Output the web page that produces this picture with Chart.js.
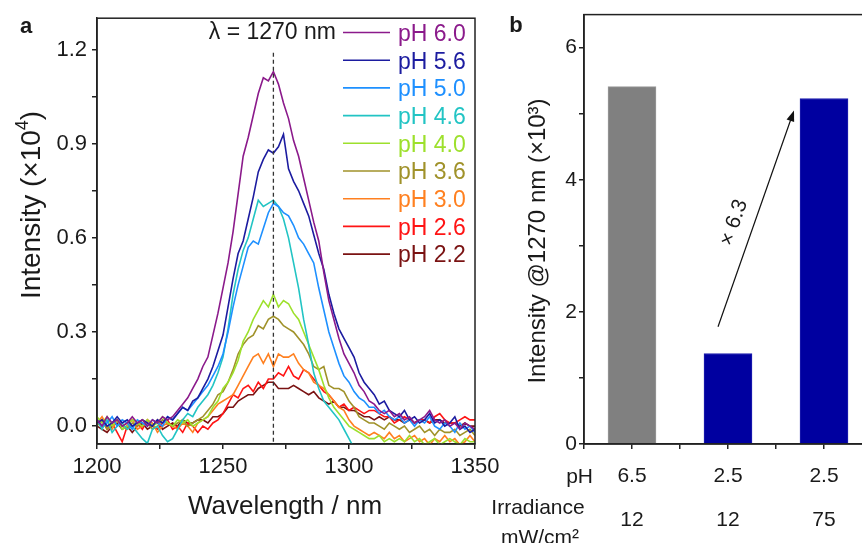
<!DOCTYPE html>
<html lang="en">
<head>
<meta charset="UTF-8">
<title>1270 nm emission vs pH</title>
<script src="https://cdn.jsdelivr.net/npm/chart.js"></script>
<style>
  html, body { margin: 0; padding: 0; background: #fff; overflow: hidden; }
  #wrap { position: relative; width: 862px; height: 543px; overflow: hidden; background: #fff; }
  #chartA { position: absolute; left: 0; top: 0; }
  #chartB { position: absolute; left: 480px; top: 0; }
</style>
</head>
<body>
<div id="wrap">
  <canvas id="chartA" width="520" height="543"></canvas>
  <canvas id="chartB" width="420" height="543"></canvas>
</div>
<script>
// ---- panel a: emission spectra (intensity x10^4) ----
const wavelengths = [
  1200, 1202, 1204, 1206, 1208, 1210, 1212, 1214, 1216, 1218,
  1220, 1222, 1224, 1226, 1228, 1230, 1232, 1234, 1236, 1238,
  1240, 1242, 1244, 1246, 1248, 1250, 1252, 1254, 1256, 1258,
  1260, 1262, 1264, 1266, 1268, 1270, 1272, 1274, 1276, 1278,
  1280, 1282, 1284, 1286, 1288, 1290, 1292, 1294, 1296, 1298,
  1300, 1302, 1304, 1306, 1308, 1310, 1312, 1314, 1316, 1318,
  1320, 1322, 1324, 1326, 1328, 1330, 1332, 1334, 1336, 1338,
  1340, 1342, 1344, 1346, 1348, 1350
];
const phLabels = ['pH 6.0', 'pH 5.6', 'pH 5.0', 'pH 4.6', 'pH 4.0', 'pH 3.6', 'pH 3.0', 'pH 2.6', 'pH 2.2'];

const ph60 = [
  0.02, 0.00, 0.03, 0.01, 0.02, 0.00, 0.01, 0.03, 0.01, 0.02,
  0.00, 0.02, 0.01, 0.03, 0.02, 0.03, 0.05, 0.07, 0.09, 0.12,
  0.15, 0.19, 0.22, 0.29, 0.36, 0.44, 0.52, 0.62, 0.74, 0.86,
  0.92, 0.99, 1.06, 1.11, 1.10, 1.13, 1.09, 1.03, 0.98, 0.91,
  0.86, 0.79, 0.72, 0.65, 0.59, 0.49, 0.40, 0.34, 0.28, 0.23,
  0.20, 0.17, 0.13, 0.11, 0.08, 0.07, 0.05, 0.04, 0.05, 0.03,
  0.04, 0.02, 0.03, 0.01, 0.02, 0.03, 0.05, 0.02, 0.01, 0.02,
  0.00, 0.01, -0.01, 0.01, 0.00, -0.01
];
const ph56 = [
  0.01, 0.02, 0.00, 0.01, 0.03, 0.01, 0.02, 0.00, 0.01, 0.02,
  0.01, 0.00, 0.02, 0.01, 0.03, 0.02, 0.04, 0.06, 0.05, 0.08,
  0.09, 0.12, 0.15, 0.19, 0.24, 0.29, 0.38, 0.47, 0.55, 0.59,
  0.66, 0.73, 0.81, 0.85, 0.88, 0.87, 0.89, 0.93, 0.82, 0.78,
  0.75, 0.71, 0.67, 0.61, 0.55, 0.50, 0.42, 0.36, 0.31, 0.28,
  0.25, 0.22, 0.17, 0.14, 0.12, 0.10, 0.07, 0.08, 0.05, 0.04,
  0.03, 0.05, 0.02, 0.03, 0.01, 0.02, 0.04, 0.01, 0.02, 0.00,
  0.01, 0.03, -0.01, 0.00, -0.02, -0.01
];
const ph50 = [
  0.02, 0.00, 0.01, 0.03, 0.00, 0.02, 0.01, -0.01, 0.02, 0.01,
  0.00, 0.02, 0.01, 0.00, 0.03, 0.02, 0.04, 0.06, 0.05, 0.07,
  0.09, 0.11, 0.13, 0.16, 0.19, 0.23, 0.30, 0.38, 0.45, 0.51,
  0.57, 0.59, 0.58, 0.63, 0.68, 0.71, 0.70, 0.68, 0.67, 0.64,
  0.60, 0.58, 0.55, 0.52, 0.44, 0.37, 0.30, 0.25, 0.20, 0.16,
  0.14, 0.11, 0.09, 0.08, 0.06, 0.06, 0.04, 0.05, 0.03, 0.02,
  0.03, 0.01, 0.02, 0.00, 0.02, 0.01, 0.03, 0.00, -0.01, 0.01,
  0.00, -0.02, 0.01, -0.01, 0.00, -0.02
];
const ph46 = [
  0.02, -0.01, 0.02, -0.02, 0.00, 0.01, -0.01, 0.00, -0.02, -0.04,
  -0.055, -0.01, 0.00, -0.03, -0.05, -0.04, -0.01, 0.02, 0.04, 0.03,
  0.06, 0.08, 0.10, 0.13, 0.17, 0.22, 0.31, 0.42, 0.50, 0.56,
  0.60, 0.66, 0.72, 0.70, 0.71, 0.72, 0.70, 0.66, 0.60, 0.52,
  0.44, 0.34, 0.26, 0.17, 0.12, 0.08, 0.06, 0.04, 0.02, -0.01,
  -0.04, -0.07, -0.10, -0.12, -0.14, -0.15, -0.16, -0.16, -0.17, -0.17,
  -0.18, -0.18, -0.18, -0.19, -0.19, -0.19, -0.20, -0.20, -0.20, -0.20,
  -0.20, -0.21, -0.21, -0.21, -0.21, -0.21
];
const ph40 = [
  0.03, 0.01, 0.03, 0.00, 0.02, -0.01, 0.00, 0.02, 0.01, 0.00,
  0.02, 0.00, 0.01, 0.03, 0.01, 0.00, 0.02, 0.01, 0.02, 0.00,
  0.01, 0.02, 0.03, 0.06, 0.08, 0.12, 0.14, 0.17, 0.21, 0.27,
  0.30, 0.34, 0.37, 0.40, 0.38, 0.42, 0.38, 0.40, 0.39, 0.36,
  0.34, 0.30, 0.26, 0.22, 0.18, 0.13, 0.09, 0.06, 0.04, 0.02,
  0.00, -0.01, -0.02, -0.03, -0.04, -0.04, -0.03, -0.05, -0.04, -0.05,
  -0.04, -0.05, -0.03, -0.05, -0.04, -0.06, -0.05, -0.04, -0.06, -0.05,
  -0.04, -0.05, -0.06, -0.04, -0.05, -0.05
];
const ph36 = [
  0.00, 0.02, -0.01, 0.01, 0.02, 0.00, -0.01, 0.01, 0.00, 0.02,
  0.01, -0.01, 0.00, 0.02, 0.01, 0.00, 0.01, 0.02, 0.00, 0.01,
  0.02, 0.03, 0.05, 0.07, 0.10, 0.11, 0.14, 0.18, 0.23, 0.26,
  0.28, 0.29, 0.32, 0.31, 0.34, 0.35, 0.34, 0.32, 0.31, 0.30,
  0.28, 0.26, 0.23, 0.19, 0.18, 0.19, 0.13, 0.12, 0.12, 0.11,
  0.08, 0.06, 0.03, 0.02, 0.01, 0.01, 0.00, -0.01, 0.01, 0.00,
  -0.01, 0.00, -0.02, -0.01, 0.00, -0.02, -0.01, -0.03, -0.01, -0.02,
  -0.02, -0.01, -0.03, -0.02, -0.01, -0.03
];
const ph30 = [
  0.01, 0.03, 0.00, -0.01, 0.02, 0.00, 0.01, 0.02, -0.01, 0.00,
  0.02, 0.01, -0.02, 0.00, 0.01, 0.00, -0.01, 0.01, 0.00, -0.02,
  0.01, 0.02, 0.03, 0.05, 0.07, 0.08, 0.09, 0.10, 0.13, 0.16,
  0.19, 0.22, 0.23, 0.20, 0.23, 0.19, 0.23, 0.22, 0.22, 0.23,
  0.20, 0.18, 0.17, 0.14, 0.13, 0.12, 0.10, 0.08, 0.06, 0.05,
  0.02, 0.00, -0.01, -0.02, -0.03, -0.02, -0.03, -0.04, -0.02, -0.04,
  -0.03, -0.05, -0.04, -0.03, -0.05, -0.04, -0.06, -0.04, -0.05, -0.03,
  -0.05, -0.04, -0.06, -0.05, -0.03, -0.05
];
const ph26 = [
  0.01, 0.02, -0.01, 0.01, -0.02, -0.05, 0.00, 0.02, 0.01, -0.01,
  0.02, 0.00, -0.01, 0.01, 0.02, -0.01, 0.00, -0.02, 0.01, 0.00,
  -0.02, 0.00, -0.01, 0.01, 0.02, 0.04, 0.07, 0.10, 0.09, 0.12,
  0.13, 0.11, 0.14, 0.12, 0.15, 0.15, 0.17, 0.16, 0.19, 0.16,
  0.15, 0.18, 0.17, 0.15, 0.13, 0.11, 0.10, 0.08, 0.06, 0.07,
  0.05, 0.06, 0.05, 0.04, 0.05, 0.05, 0.04, 0.03, 0.03, 0.01,
  0.02, 0.03, 0.02, 0.01, 0.02, 0.02, 0.01, 0.03, 0.04, 0.02,
  0.01, 0.01, 0.02, 0.03, 0.02, 0.02
];
const ph22 = [
  0.00, -0.01, -0.02, 0.00, 0.01, -0.01, 0.00, -0.02, 0.00, 0.01,
  -0.01, 0.00, 0.02, -0.01, 0.00, 0.01, 0.00, 0.02, 0.01, 0.01,
  0.02, 0.02, 0.01, 0.03, 0.03, 0.04, 0.06, 0.06, 0.08, 0.09,
  0.10, 0.10, 0.12, 0.13, 0.14, 0.14, 0.12, 0.12, 0.12, 0.13,
  0.12, 0.11, 0.10, 0.11, 0.09, 0.08, 0.07, 0.08, 0.06, 0.06,
  0.05, 0.05, 0.04, 0.03, 0.03, 0.02, 0.03, 0.02, 0.03, 0.02,
  0.02, 0.01, 0.02, 0.01, 0.02, 0.02, 0.01, 0.02, 0.02, 0.01,
  0.01, 0.01, 0.00, 0.01, 0.00, 0.00
];
const aYMajor = [0, 0.3, 0.6, 0.9, 1.2];
const aYMinor = [0.15, 0.45, 0.75, 1.05];

// ---- panel b: intensity at 1270 nm (x10^3) ----
const barPH = ['6.5', '2.5', '2.5'];
const barIrradiance = ['12', '12', '75'];
const barValues = [5.41, 1.37, 5.23];

const FONT = 'Arial, "Liberation Sans", sans-serif';
const INK = '#1a1a1a';
const lineColors = ['#8b1a8b', '#1c1ca0', '#1e90ff', '#22c4c4', '#9de02c', '#a0922a', '#ff8020', '#ff1414', '#7a1212'];
const series = [ph60, ph56, ph50, ph46, ph40, ph36, ph30, ph26, ph22];

Chart.defaults.font.family = FONT;
Chart.defaults.color = INK;

const panelA = {
  id: 'panelA',
  afterDraw(chart) {
    const { ctx, chartArea: a, scales: { x, y } } = chart;
    ctx.save();
    ctx.strokeStyle = '#222';
    ctx.lineWidth = 1.5;
    ctx.strokeRect(a.left, a.top, a.right - a.left, a.bottom - a.top);

    // dashed marker at 1270 nm
    const xm = x.getPixelForValue(1270);
    ctx.setLineDash([4, 3]);
    ctx.lineWidth = 1.3;
    ctx.strokeStyle = '#333';
    ctx.beginPath();
    ctx.moveTo(xm, y.getPixelForValue(1.19));
    ctx.lineTo(xm, a.bottom);
    ctx.stroke();
    ctx.setLineDash([]);

    ctx.fillStyle = INK;
    ctx.font = '23px ' + FONT;
    ctx.textAlign = 'right';
    ctx.textBaseline = 'middle';
    ctx.fillText('\u03bb = 1270 nm', 336, 33);

    // legend
    ctx.textAlign = 'left';
    chart.data.datasets.forEach((ds, i) => {
      const ly = 32.5 + i * 27.7;
      ctx.strokeStyle = ds.borderColor;
      ctx.lineWidth = 1.6;
      ctx.beginPath();
      ctx.moveTo(343, ly);
      ctx.lineTo(390, ly);
      ctx.stroke();
      ctx.fillStyle = ds.borderColor;
      ctx.fillText(ds.label, 398, ly + 2);
    });

    // axis titles
    ctx.fillStyle = INK;
    ctx.font = '26px ' + FONT;
    ctx.textAlign = 'center';
    ctx.fillText('Wavelength / nm', 285, 507);

    ctx.save();
    ctx.translate(32, 205);
    ctx.rotate(-Math.PI / 2);
    ctx.font = '28px ' + FONT;
    const main = 'Intensity (\u00d710';
    const wMain = ctx.measureText(main).width;
    ctx.font = '18px ' + FONT;
    const wSup = ctx.measureText('4').width;
    ctx.font = '28px ' + FONT;
    const wEnd = ctx.measureText(')').width;
    let cx = -(wMain + wSup + wEnd) / 2;
    ctx.textAlign = 'left';
    ctx.fillText(main, cx, 0);
    cx += wMain;
    ctx.font = '18px ' + FONT;
    ctx.fillText('4', cx, -9);
    cx += wSup;
    ctx.font = '28px ' + FONT;
    ctx.fillText(')', cx, 0);
    ctx.restore();

    ctx.textAlign = 'center';
    ctx.font = 'bold 22px ' + FONT;
    ctx.fillText('a', 26, 27);
    ctx.restore();
  }
};

new Chart(document.getElementById('chartA'), {
  type: 'line',
  data: {
    datasets: series.map((s, i) => ({
      label: phLabels[i],
      data: s.map((v, j) => ({ x: wavelengths[j], y: v })),
      borderColor: lineColors[i],
      borderWidth: 1.6,
      pointRadius: 0,
      tension: 0,
      fill: false
    }))
  },
  options: {
    responsive: false,
    animation: false,
    layout: { padding: { left: 0, top: 13, right: 45, bottom: 0 } },
    plugins: { legend: { display: false }, tooltip: { enabled: false } },
    scales: {
      x: {
        type: 'linear',
        min: 1200,
        max: 1350,
        afterFit: s => { s.height = 99; },
        border: { display: true, color: '#222', width: 1.5 },
        grid: { drawOnChartArea: false, color: '#222', tickLength: 5, lineWidth: 1.5 },
        ticks: {
          stepSize: 25,
          autoSkip: false,
          maxRotation: 0,
          padding: 5,
          color: INK,
          font: { size: 22 },
          callback: v => (v % 50 === 0 ? String(v) : '')
        }
      },
      y: {
        min: -0.057,
        max: 1.3,
        afterFit: s => { s.width = 97; },
        afterBuildTicks: s => {
          s.ticks = aYMajor.concat(aYMinor).sort((p, q) => p - q).map(v => ({ value: v }));
        },
        border: { display: true, color: '#222', width: 1.5 },
        grid: { drawOnChartArea: false, color: '#222', tickLength: 5, lineWidth: 1.5 },
        ticks: {
          padding: 5,
          color: INK,
          font: { size: 22 },
          callback: v => (aYMajor.includes(v) ? v.toFixed(1) : '')
        }
      }
    }
  },
  plugins: [panelA]
});

const panelB = {
  id: 'panelB',
  afterDraw(chart) {
    const { ctx, chartArea: a, scales: { x, y } } = chart;
    ctx.save();
    ctx.strokeStyle = '#222';
    ctx.lineWidth = 1.5;
    ctx.strokeRect(a.left, a.top, a.right - a.left, a.bottom - a.top);

    // arrow from the low bar towards the high bar
    const x0 = x.getPixelForValue(0.896), y0 = y.getPixelForValue(1.774);
    const x1 = x.getPixelForValue(1.6875), y1 = y.getPixelForValue(5.05);
    const ang = Math.atan2(y1 - y0, x1 - x0);
    ctx.strokeStyle = '#111';
    ctx.fillStyle = '#111';
    ctx.lineWidth = 1.2;
    ctx.beginPath();
    ctx.moveTo(x0, y0);
    ctx.lineTo(x1 - 6 * Math.cos(ang), y1 - 6 * Math.sin(ang));
    ctx.stroke();
    ctx.beginPath();
    ctx.moveTo(x1, y1);
    ctx.lineTo(x1 - 11 * Math.cos(ang) + 4 * Math.sin(ang), y1 - 11 * Math.sin(ang) - 4 * Math.cos(ang));
    ctx.lineTo(x1 - 11 * Math.cos(ang) - 4 * Math.sin(ang), y1 - 11 * Math.sin(ang) + 4 * Math.cos(ang));
    ctx.closePath();
    ctx.fill();

    ctx.save();
    ctx.translate(x.getPixelForValue(1.0625), y.getPixelForValue(3.35));
    ctx.rotate(ang);
    ctx.font = '21px ' + FONT;
    ctx.textAlign = 'center';
    ctx.textBaseline = 'middle';
    ctx.fillStyle = INK;
    ctx.fillText('\u00d7 6.3', 0, 0);
    ctx.restore();

    // rows under the axis
    ctx.fillStyle = INK;
    ctx.font = '21px ' + FONT;
    ctx.textBaseline = 'middle';
    ctx.textAlign = 'right';
    ctx.fillText('pH', 113, 477);
    ctx.textAlign = 'center';
    ctx.fillText('Irradiance', 58, 508);
    ctx.fillText('mW/cm\u00b2', 60, 538);
    barIrradiance.forEach((t, i) => ctx.fillText(t, x.getPixelForValue(i), 520));

    ctx.font = '24px ' + FONT;
    ctx.save();
    ctx.translate(58, 241);
    ctx.rotate(-Math.PI / 2);
    ctx.fillText('Intensity @1270 nm (\u00d710\u00b3)', 0, 0);
    ctx.restore();

    ctx.font = 'bold 22px ' + FONT;
    ctx.fillText('b', 36, 26);
    ctx.restore();
  }
};

new Chart(document.getElementById('chartB'), {
  type: 'bar',
  data: {
    datasets: [{
      data: barValues.map((v, i) => ({ x: i, y: v })),
      backgroundColor: ['#808080', '#0000a0', '#0000a0'],
      borderColor: ['#9a9a9a', '#2020b0', '#2020b0'],
      borderWidth: 1,
      barThickness: 48
    }]
  },
  options: {
    responsive: false,
    animation: false,
    layout: { padding: { left: 0, top: 13, right: 28, bottom: 0 } },
    plugins: { legend: { display: false }, tooltip: { enabled: false } },
    scales: {
      x: {
        type: 'linear',
        min: -0.5,
        max: 2.5,
        offset: false,
        afterFit: s => { s.height = 99; },
        afterBuildTicks: s => {
          s.ticks = [-0.5, 0, 0.5, 1, 1.5, 2, 2.5].map(v => ({ value: v }));
        },
        border: { display: true, color: '#222', width: 1.5 },
        grid: { offset: false, drawOnChartArea: false, color: '#222', tickLength: 5, lineWidth: 1.5 },
        ticks: {
          autoSkip: false,
          maxRotation: 0,
          padding: 15,
          color: INK,
          font: { size: 21 },
          callback: v => (Number.isInteger(v) ? barPH[v] : '')
        }
      },
      y: {
        min: 0,
        max: 6.5,
        afterFit: s => { s.width = 104; },
        afterBuildTicks: s => {
          s.ticks = [0, 1, 2, 3, 4, 5, 6].map(v => ({ value: v }));
        },
        border: { display: true, color: '#222', width: 1.5 },
        grid: { drawOnChartArea: false, color: '#222', tickLength: 5, lineWidth: 1.5 },
        ticks: {
          padding: 2,
          color: INK,
          font: { size: 21 },
          callback: v => (v % 2 === 0 ? String(v) : '')
        }
      }
    }
  },
  plugins: [panelB]
});
</script>
</body>
</html>
